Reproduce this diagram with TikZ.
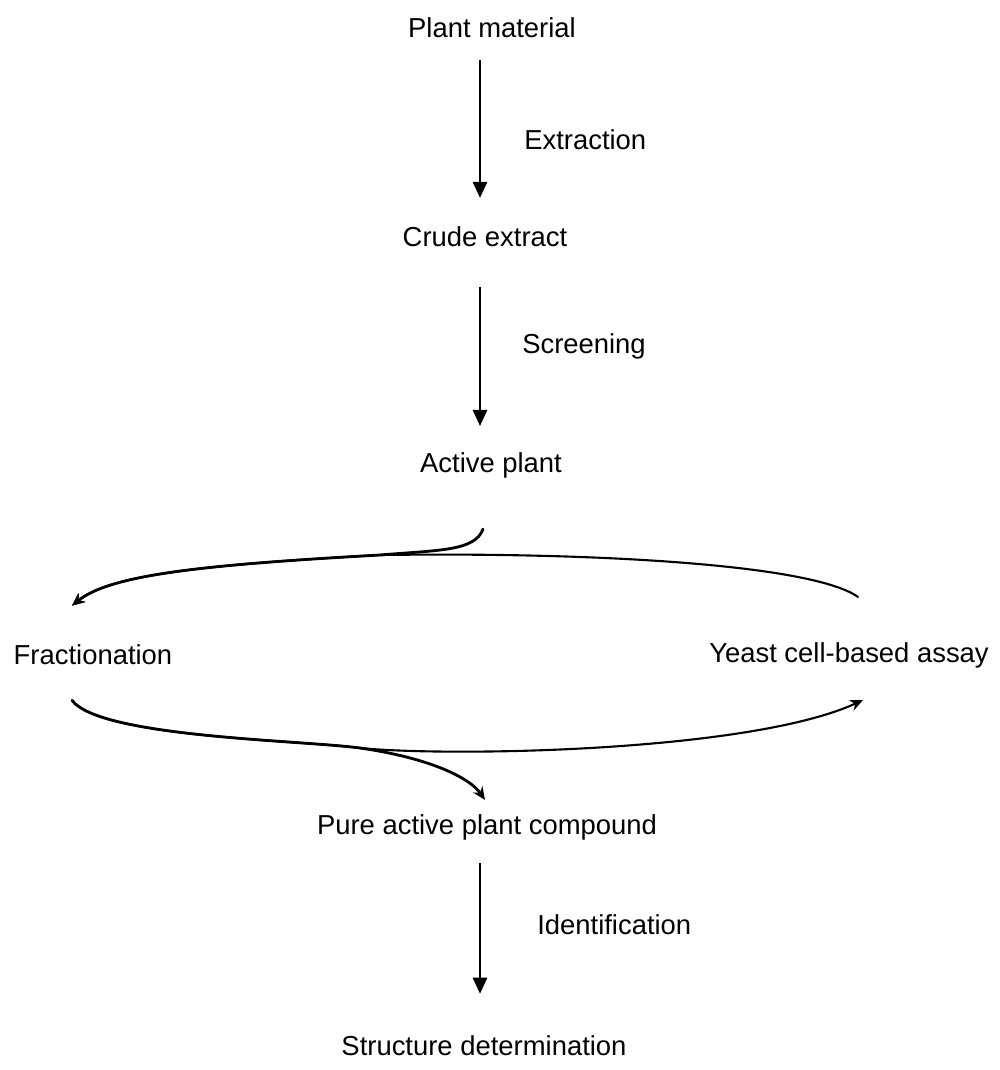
\documentclass[tikz,border=0pt]{standalone}
\usepackage{fontspec}
\setmainfont{Liberation Sans}
\usepackage{tikz}
\usetikzlibrary{arrows.meta,positioning,calc}
\tikzset{
  stage/.style={
    inner sep=0pt,
    font=\fontsize{19.5}{23}\selectfont
  },
  method/.style={
    inner sep=0pt,
    anchor=west,
    font=\fontsize{19.5}{23}\selectfont
  },
  flow/.style={
    draw=black,
    line width=1.2pt,
    -{Triangle[length=4mm,width=3.6mm]}
  },
  loopedge/.style={
    draw=black,
    line width=2pt,
    line cap=round,
    -{Stealth[length=3.2mm,width=2.8mm]}
  }
}

\begin{document}
\begin{tikzpicture}[x=0.025cm, y=-0.025cm]
    \useasboundingbox (0,0) rectangle (999,1070);

    \coordinate (axis) at (480,0);

    \node [stage] (plant) at (492,28) {Plant material};
    \node [stage] (crude) at (485,237) {Crude extract};
    \node [stage] (active) at (491,465) {Active plant};
    \node [stage] (frac) at (93,655) {Fractionation};
    \node [stage] (yeast) at (849,655) {Yeast cell-based assay};
    \node [stage] (pure) at (487,827) {Pure active plant compound};
    \node [stage] (struct) at (484,1046) {Structure determination};

    \node [method] (extr) at (524,140) {Extraction};
    \node [method] (scr) at (522,346) {Screening};
    \node [method] (ident) at (537,925) {Identification};

    % straight steps
    \draw [flow, shorten <=0.55cm, shorten >=0.72cm] (plant.south -| axis) -- (crude.north -| axis);
    \draw [flow, shorten <=0.98cm, shorten >=0.65cm] (crude.south -| axis) -- (active.north -| axis);
    \draw [flow, shorten <=0.58cm, shorten >=1.05cm] (pure.south -| axis) -- (struct.north -| axis);

    % loop between fractionation and assay
    \coordinate (fracin) at ($(frac.north)+(-21,-39)$);
    \coordinate (fracout) at ($(frac.south)+(-21,35)$);
    \coordinate (yeastin) at ($(yeast.south)+(14,32)$);
    \coordinate (yeastout) at ($(yeast.north)+(9,-45)$);
    \coordinate (activeout) at ($(active.south)+(-8,51)$);
    \coordinate (purein) at ($(pure.north)+(-2,-14)$);

    \draw [loopedge] (activeout) .. controls +(-8,22) and (440,550) .. (380,555)
      .. controls (200,565) and (110,575) .. (fracin);
    \draw [loopedge, line width=1.5pt] (yeastout) .. controls +(-45,-32) and (600,552) .. (380,555)
      .. controls (200,565) and (110,575) .. (fracin);
    \draw [loopedge] (fracout) .. controls +(28,37) and (300,740) .. (360,748)
      .. controls (430,758) and (470,778) .. (purein);
    \draw [loopedge, line width=1.5pt] (fracout) .. controls +(28,37) and (300,740) .. (360,748)
      .. controls (450,757) and (750,752) .. (yeastin);
\end{tikzpicture}
\end{document}
